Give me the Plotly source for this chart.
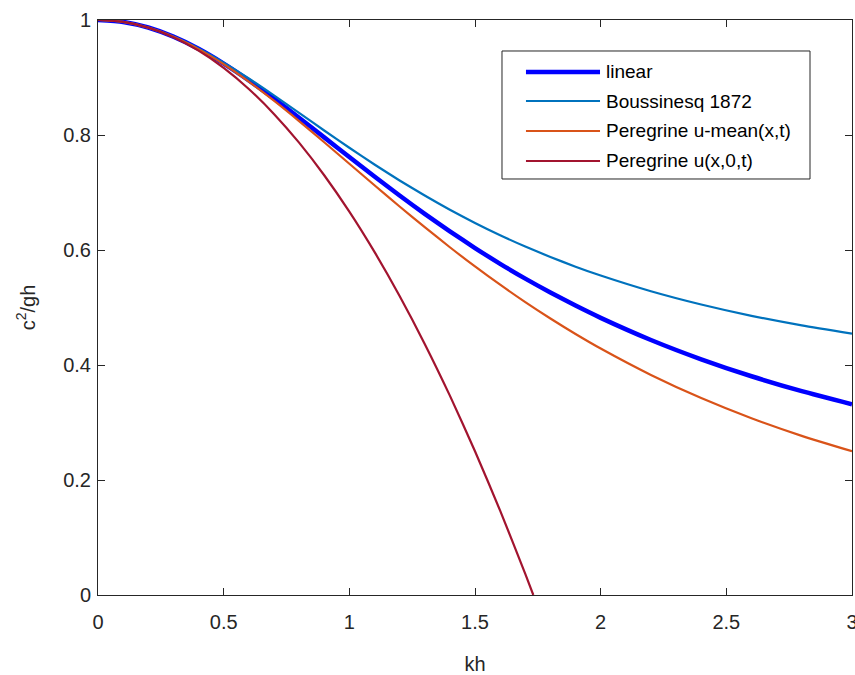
import plotly.graph_objects as go

kh = [0.0, 0.1, 0.2, 0.3, 0.4, 0.5, 0.6, 0.7, 0.8, 0.9, 1.0, 1.1, 1.2, 1.3, 1.4, 1.5,
      1.6, 1.7, 1.8, 1.9, 2.0, 2.2, 2.4, 2.6, 2.8, 3.0]

linear = [1.0, 0.9967, 0.9869, 0.9710, 0.9499, 0.9242, 0.8951, 0.8634, 0.8300, 0.7959,
          0.7616, 0.7277, 0.6947, 0.6629, 0.6324, 0.6034, 0.5760, 0.5502, 0.5260, 0.5033,
          0.4820, 0.4435, 0.4099, 0.3804, 0.3545, 0.3317]

boussinesq = [1.0, 0.9967, 0.9869, 0.9713, 0.9506, 0.9259, 0.8983, 0.8688, 0.8384, 0.8078,
              0.7778, 0.7487, 0.7209, 0.6947, 0.6700, 0.6471, 0.6257, 0.6060, 0.5878, 0.5710,
              0.5556, 0.5283, 0.5052, 0.4855, 0.4688, 0.4545]

peregrine_mean = [1.0, 0.9967, 0.9868, 0.9709, 0.9494, 0.9231, 0.8929, 0.8596, 0.8242, 0.7874,
                  0.7500, 0.7126, 0.6757, 0.6397, 0.6048, 0.5714, 0.5396, 0.5093, 0.4808, 0.4539,
                  0.4286, 0.3827, 0.3425, 0.3074, 0.2768, 0.2500]

kh_bottom = [0.0, 0.1, 0.2, 0.3, 0.4, 0.5, 0.6, 0.7, 0.8, 0.9, 1.0, 1.1, 1.2, 1.3, 1.4, 1.5,
             1.6, 1.7, 1.732]
peregrine_bottom = [1.0, 0.9967, 0.9867, 0.9700, 0.9467, 0.9167, 0.8800, 0.8367, 0.7867, 0.7300,
                    0.6667, 0.5967, 0.5200, 0.4367, 0.3467, 0.2500, 0.1467, 0.0367, 0.0]

x_ticks = [0, 0.5, 1, 1.5, 2, 2.5, 3]
x_ticktext = ["0", "0.5", "1", "1.5", "2", "2.5", "3"]
y_ticks = [0, 0.2, 0.4, 0.6, 0.8, 1]
y_ticktext = ["0", "0.2", "0.4", "0.6", "0.8", "1"]

names = ["linear", "Boussinesq 1872", "Peregrine u-mean(x,t)", "Peregrine u(x,0,t)"]
colors = ["#0000FF", "#0072BD", "#D95319", "#A2142F"]
widths = [4.5, 2.2, 2.2, 2.2]

FONT = "Liberation Sans, Arial, sans-serif"

fig = go.Figure()
series = [(kh, linear), (kh, boussinesq), (kh, peregrine_mean), (kh_bottom, peregrine_bottom)]
for (x, y), n, c, w in zip(series, names, colors, widths):
    fig.add_trace(go.Scatter(x=x, y=y, mode="lines", name=n, showlegend=False,
                             line=dict(color=c, width=w, shape="spline", smoothing=0.6)))

# Legend box drawn in paper coordinates (MATLAB-style long line samples)
leg_x0, leg_x1 = 0.5358, 0.9443
leg_y0, leg_y1 = 0.7235, 0.9461
line_x0, line_x1 = 0.5676, 0.6658
text_x = 0.6711
item_y = [0.9096, 0.8591, 0.8070, 0.7548]

fig.add_shape(type="rect", xref="paper", yref="paper", x0=leg_x0, x1=leg_x1,
              y0=leg_y0, y1=leg_y1, line=dict(color="#262626", width=1),
              fillcolor="white", layer="above")
for n, c, w, yy in zip(names, colors, widths, item_y):
    fig.add_shape(type="line", xref="paper", yref="paper", x0=line_x0, x1=line_x1,
                  y0=yy, y1=yy, line=dict(color=c, width=w), layer="above")
    fig.add_annotation(xref="paper", yref="paper", x=text_x, y=yy, text=n,
                       showarrow=False, xanchor="left", yanchor="middle",
                       font=dict(family=FONT, size=19, color="#000000"))

axis_common = dict(showgrid=False, zeroline=False, showline=True, linecolor="#262626",
                   linewidth=1, mirror="ticks", ticks="inside", ticklen=7,
                   tickcolor="#262626", ticklabeloverflow="allow", automargin=False,
                   tickfont=dict(family=FONT, size=20, color="#262626"))

fig.update_xaxes(range=[0, 3], tickvals=x_ticks, ticktext=x_ticktext,
                 ticklabelstandoff=9,
                 title=dict(text="kh", font=dict(family=FONT, size=20, color="#262626"),
                            standoff=33),
                 **axis_common)
fig.update_yaxes(range=[0, 1], tickvals=y_ticks, ticktext=y_ticktext,
                 ticklabelstandoff=2,
                 title=dict(text="c<sup>2</sup>/gh", font=dict(family=FONT, size=20,
                                                               color="#262626"),
                            standoff=22),
                 **axis_common)

fig.update_layout(
    width=855, height=675,
    margin=dict(l=98, r=3, t=20, b=80),
    plot_bgcolor="white", paper_bgcolor="white",
    showlegend=False,
)

fig.write_html("out.html")
